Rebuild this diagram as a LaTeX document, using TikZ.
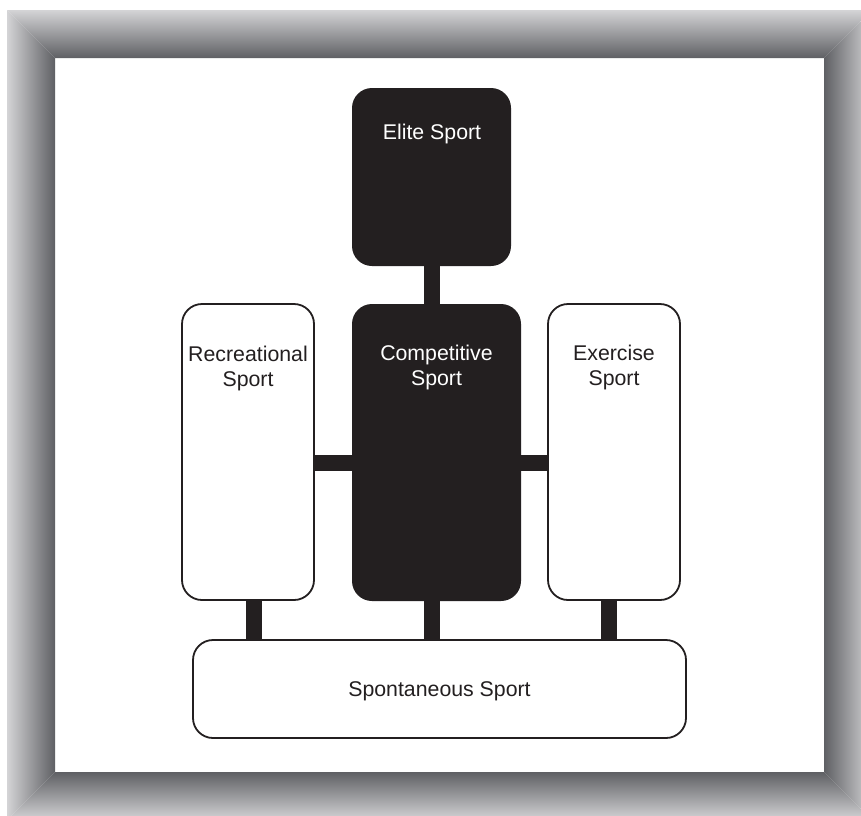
\documentclass[tikz,border=0pt]{standalone}
\usepackage{fontspec}
\setmainfont{Liberation Sans}
\definecolor{ink}{HTML}{231F20}
\definecolor{frlight}{HTML}{D4D4D6}
\definecolor{frdark}{HTML}{5F6064}
\begin{document}
\begin{tikzpicture}[x=1pt,y=-1pt,
  darkbox/.style={fill=ink, draw=none, rounded corners=20pt, inner sep=0pt},
  lightbox/.style={fill=white, draw=ink, line width=1.8pt, rounded corners=20pt, inner sep=0pt},
  conn/.style={draw=ink, line width=16pt},
  wlabel/.style={text=white, font=\fontsize{21.3}{25}\selectfont, align=center, inner sep=0pt},
  blabel/.style={text=ink, font=\fontsize{21.3}{25}\selectfont, align=center, inner sep=0pt}]
\useasboundingbox (0,0) rectangle (861,815);
\fill[white] (0,0) rectangle (861,815);
\begin{scope}
\clip (0,0) rectangle (861,815);
\shade[top color=frlight, bottom color=frdark] (7,10) -- (872,10) -- (824,58) -- (55,58) -- cycle;
\shade[top color=frdark, bottom color=frlight] (55,772) -- (824,772) -- (872,820) -- (7,820) -- cycle;
\shade[left color=frlight, right color=frdark] (7,10) -- (55,58) -- (55,772) -- (7,820) -- cycle;
\shade[left color=frdark, right color=frlight] (872,10) -- (824,58) -- (824,772) -- (872,820) -- cycle;
\end{scope}
% boxes
\node[darkbox, minimum width=159pt, minimum height=178pt] (elite) at (431.5,177) {};
\node[darkbox, minimum width=169pt, minimum height=297pt] (comp) at (436.5,452.5) {};
\node[lightbox, minimum width=132pt, minimum height=296pt] (rec) at (248,452) {};
\node[lightbox, minimum width=132pt, minimum height=296pt] (ex) at (614,452) {};
\node[lightbox, minimum width=493pt, minimum height=98pt] (spont) at (439.5,689) {};
% labels
\node[wlabel] (eliteT) at (432,134) {Elite Sport};
\node[wlabel] (compT) at (436.5,367) {Competitive\\Sport};
\node[blabel] (recT) at (248,368) {Recreational\\Sport};
\node[blabel] (exT) at (614,367) {Exercise\\Sport};
\node[blabel] (spontT) at (439.5,691) {Spontaneous Sport};
% connectors
\draw[conn] (elite.south) -- (elite.south |- comp.north);
\draw[conn] ([yshift=-10.5pt]rec.east) coordinate (h1) -- (h1 -| comp.west);
\draw[conn] ([yshift=-10.5pt]ex.west) coordinate (h2) -- (h2 -| comp.east);
\draw[conn] ([xshift=6pt]rec.south) coordinate (v1) -- (v1 |- spont.north);
\draw[conn] (elite.south |- comp.south) -- (elite.south |- spont.north);
\draw[conn] ([xshift=-5.5pt]ex.south) coordinate (v3) -- (v3 |- spont.north);
\end{tikzpicture}
\end{document}
